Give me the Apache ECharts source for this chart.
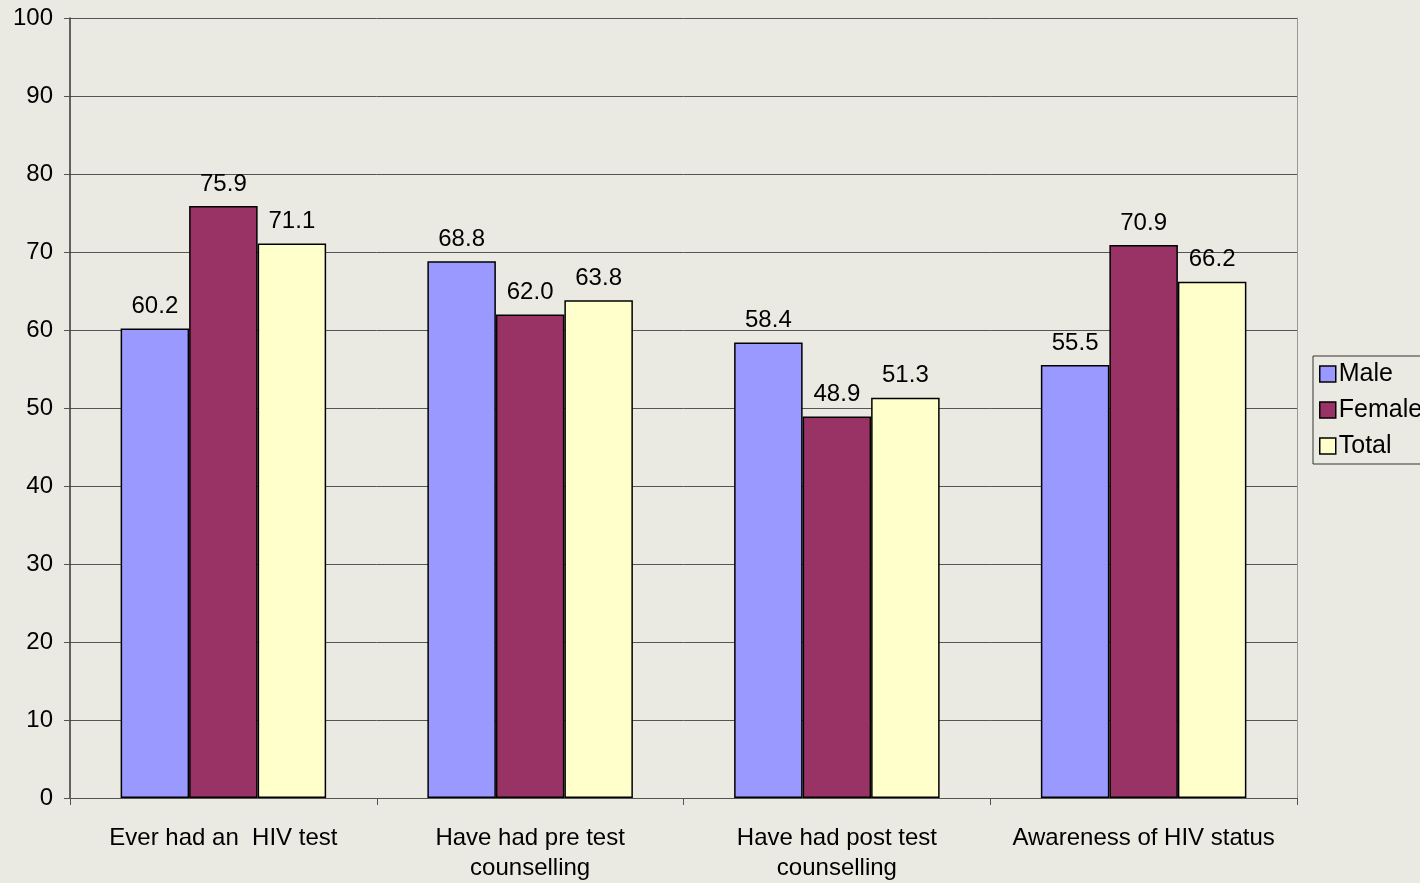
<!DOCTYPE html>
<html>
<head>
<meta charset="utf-8">
<script src="https://cdn.jsdelivr.net/npm/echarts@6/dist/echarts.min.js"></script>
<style>
html,body{margin:0;padding:0;background:#EBEAE2;}
#c{width:1420px;height:883px;}
</style>
</head>
<body>
<div id="c"></div>
<script>
const categories = ["Ever had an  HIV test", "Have had pre test\ncounselling", "Have had post test\ncounselling", "Awareness of HIV status"];
const male = [60.2, 68.8, 58.4, 55.5];
const female = [75.9, 62.0, 48.9, 70.9];
const total = [71.1, 63.8, 51.3, 66.2];
const seriesNames = ["Male", "Female", "Total"];
const colors = ["#9999FF", "#993366", "#FFFFCC"];

const chart = echarts.init(document.getElementById('c'));
const font = 'Liberation Sans, Arial, sans-serif';
function mk(name, data, color) {
  return {
    name: name, type: 'bar', data: data,
    barGap: '0%', barCategoryGap: '33%',
    itemStyle: { color: color, borderColor: '#000', borderWidth: 1.5 },
    label: { show: true, position: 'top', distance: 10, color: '#000', fontSize: 24, fontFamily: font,
      formatter: p => p.value.toFixed(1) },
    animation: false
  };
}
chart.setOption({
  backgroundColor: '#EBEAE2',
  animation: false,
  grid: { left: 70, right: 123, top: 18, bottom: 83 },
  legend: {
    orient: 'vertical', left: 1313, top: 356,
    itemWidth: 16, itemHeight: 16, itemGap: 10,
    icon: 'rect',
    borderColor: '#333', borderWidth: 1, padding: [5, 40, 5, 6],
    textStyle: { fontSize: 25, fontFamily: font, color: '#000', padding: [0, 0, 0, -2], lineHeight: 26 },
    itemStyle: { borderColor: '#000', borderWidth: 1.5 },
    data: seriesNames
  },
  xAxis: {
    type: 'category', data: categories,
    axisLine: { lineStyle: { color: '#555', width: 1 } },
    axisTick: { show: true, length: 7, lineStyle: { color: '#555' } },
    axisLabel: { color: '#000', fontSize: 24, fontFamily: font, margin: 25, lineHeight: 30, interval: 0 }
  },
  yAxis: [{
    type: 'value', min: 0, max: 100, interval: 10,
    axisLine: { show: true, lineStyle: { color: '#333', width: 1.5 } },
    axisTick: { show: true, length: 6, lineStyle: { color: '#555' } },
    axisLabel: { color: '#000', fontSize: 24, fontFamily: font, margin: 17 },
    splitLine: { lineStyle: { color: '#555', width: 1 } }
  }, {
    type: 'value', min: 0, max: 100, interval: 10, position: 'right',
    axisLine: { show: true, lineStyle: { color: '#999', width: 1 } },
    axisTick: { show: false }, axisLabel: { show: false }, splitLine: { show: false }
  }],
  series: [mk(seriesNames[0], male, colors[0]), mk(seriesNames[1], female, colors[1]), mk(seriesNames[2], total, colors[2])]
});
</script>
</body>
</html>
